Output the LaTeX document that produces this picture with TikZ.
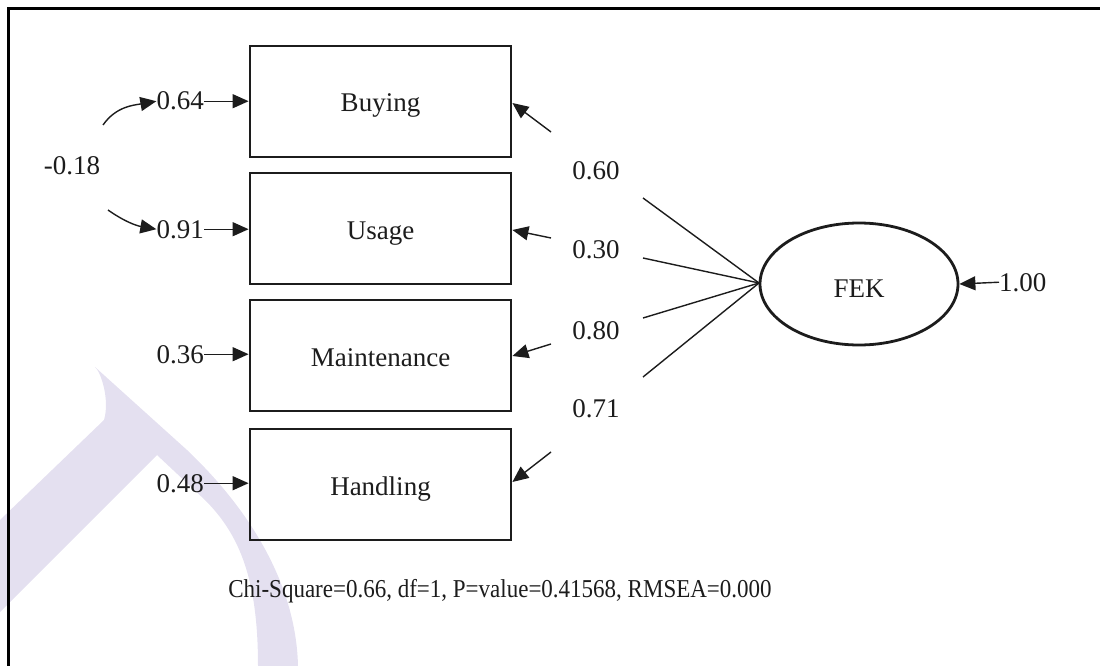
\documentclass[tikz,border=0pt]{standalone}
\usepackage{fontspec}
\setmainfont{Liberation Serif}
\usetikzlibrary{arrows.meta,shapes.geometric}
\definecolor{wm}{RGB}{228,224,240}
\definecolor{ink}{RGB}{28,28,28}
\begin{document}
\begin{tikzpicture}[x=1pt,y=-1pt,
  every node/.style={text=ink,font=\fontsize{27}{31}\selectfont},
  obs/.style={draw=ink,line width=2.8pt,rectangle,minimum width=261pt,minimum height=111pt,inner sep=0pt,text height=21pt,text depth=0pt},
  lat/.style={draw=ink,line width=2.8pt,ellipse,minimum width=198pt,minimum height=122pt,inner sep=0pt,text height=26pt,text depth=0pt},
  lbl/.style={inner sep=0pt},
  conn/.style={draw=ink,line width=1.4pt},
  arr/.style={conn,-{Triangle[length=16pt,width=14pt]}}]
\useasboundingbox (0,0) rectangle (1100,666);
% watermark
\fill[wm] (95,367) -- (187,450) .. controls (245,505) and (296,580) .. (298,666)
  -- (258,666) .. controls (258,580) and (240,535) .. (205,500) -- (157,455)
  -- (0,612) -- (0,520) -- (104,420) .. controls (110,400) and (101,372) .. (95,367) -- cycle;
% frame
\draw[black,line width=3pt] (1100,9) -- (8,9) -- (8,666);
% observed variables
\node[obs] (b1) at (380.5,101.5) {Buying};
\node[obs] (b2) at (380.5,228.5) {Usage};
\node[obs] (b3) at (380.5,355.5) {Maintenance};
\node[obs] (b4) at (380.5,484.5) {Handling};
% latent
\node[lat] (F) at (859,284) {FEK};
% error variances
\node[lbl,anchor=base east] (e1) at (204,110) {0.64};
\node[lbl,anchor=base east] (e2) at (204,238) {0.91};
\node[lbl,anchor=base east] (e3) at (204,363) {0.36};
\node[lbl,anchor=base east] (e4) at (204,492) {0.48};
\draw[arr] (e1.east) -- (b1.west |- e1.east);
\draw[arr] (e2.east) -- (b2.west |- e2.east);
\draw[arr] (e3.east) -- (b3.west |- e3.east);
\draw[arr] (e4.east) -- (b4.west |- e4.east);
% error covariance
\node[lbl,anchor=base] (cov) at (72,175) {-0.18};
\coordinate (c1) at (103,125);
\coordinate (c2) at (108,210);
\draw[arr] (c1) to[out=55,in=190] (e1.west);
\draw[arr] (c2) to[out=-35,in=170] (e2.west);
% loadings
\node[lbl,anchor=base] (l1) at (596,179) {0.60};
\node[lbl,anchor=base] (l2) at (596,258) {0.30};
\node[lbl,anchor=base] (l3) at (596,339) {0.80};
\node[lbl,anchor=base] (l4) at (596,417) {0.71};
\coordinate (a1) at (643,198); \coordinate (d1) at (551,132);
\coordinate (a2) at (643,258); \coordinate (d2) at (551,238);
\coordinate (a3) at (643,318); \coordinate (d3) at (551,344);
\coordinate (a4) at (643,377); \coordinate (d4) at (551,452);
\coordinate (F0) at (759,283);
\draw[conn] (F0) -- (a1);
\draw[conn] (F0) -- (a2);
\draw[conn] (F0) -- (a3);
\draw[conn] (F0) -- (a4);
\draw[arr] (d1) -- (b1.east |- 0,103);
\draw[arr] (d2) -- (b2.east |- 0,230);
\draw[arr] (d3) -- (b3.east |- 0,356);
\draw[arr] (d4) -- (b4.east |- 0,482);
% latent variance
\node[lbl,anchor=base west] (v) at (999,291) {1.00};
\draw[arr] (v.west) -- (F.east);
% fit statistics
\node[lbl,anchor=base,font=\fontsize{23}{27}\selectfont] (fit) at (500,597) {\scalebox{1}[1.12]{Chi-Square=0.66, df=1, P=value=0.41568, RMSEA=0.000}};
\end{tikzpicture}
\end{document}
